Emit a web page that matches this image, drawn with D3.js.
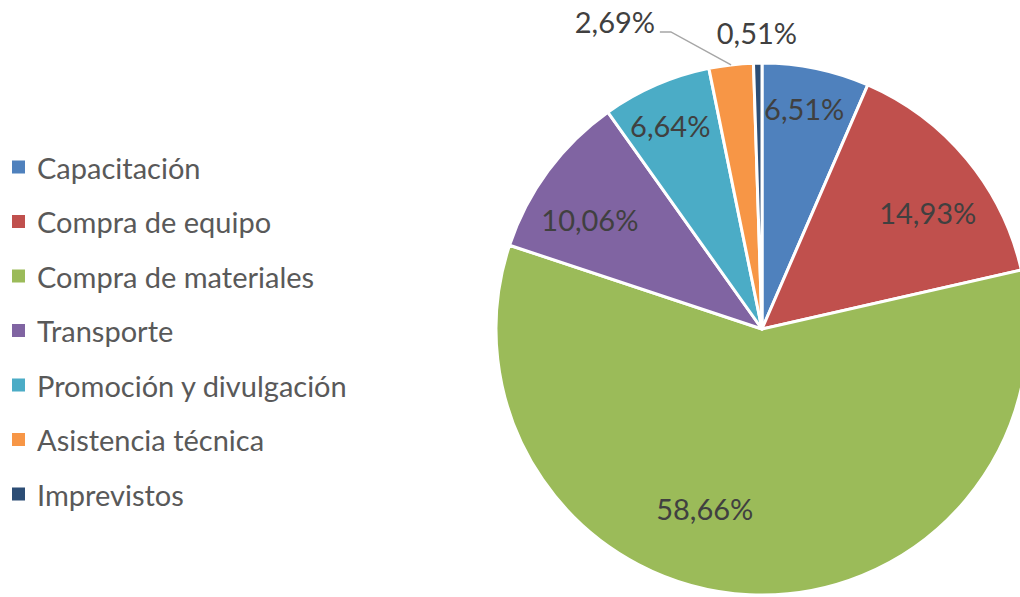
<!DOCTYPE html>
<html>
<head>
<meta charset="utf-8">
<script src="https://cdn.jsdelivr.net/npm/d3@7"></script>
<style>
  body { margin: 0; background: #fff; }
  svg { display: block; }
  .legend text { font-family: Lato, "Open Sans", sans-serif; font-size: 29px; fill: #595959; }
  .label { font-family: Lato, "Open Sans", sans-serif; font-size: 29px; fill: #404040; }
</style>
</head>
<body>
<div id="chart"></div>
<script>
// data
const categories = ["Capacitación", "Compra de equipo", "Compra de materiales", "Transporte",
    "Promoción y divulgación", "Asistencia técnica", "Imprevistos"];
const values = [6.51, 14.93, 58.66, 10.06, 6.64, 2.69, 0.51];
const colors = ["#4F81BD", "#C0504D", "#9BBB59", "#8064A2", "#4BACC6", "#F79646", "#2C4D75"];

const width = 1020, height = 597;
const cx = 762, cy = 329, radius = 266;

// label tweaks (Excel best-fit placement)
const labelNudge = [[-1, -12], [2, 19], [-47, -33], [-1, 17], [-7, -8], [-110, 10], [0, 23]];
const outside = [false, false, false, false, false, true, true];

let svg = d3.select("#chart").append("svg")
    .attr("width", width)
    .attr("height", height);

let pie = d3.pie().sort(null).value(d => d);
let arcs = pie(values);

let arc = d3.arc().innerRadius(0).outerRadius(radius);
let labelArc = d3.arc().innerRadius(radius * 0.8).outerRadius(radius * 0.8);
let outerArc = d3.arc().innerRadius(radius * 1.2).outerRadius(radius * 1.2);
let edgeArc = d3.arc().innerRadius(radius).outerRadius(radius);

let g = svg.append("g")
    .attr("transform", `translate(${cx}, ${cy})`);

g.selectAll(".slice")
    .data(arcs)
    .join("path")
    .attr("class", "slice")
    .attr("d", arc)
    .attr("fill", (d, i) => colors[i])
    .attr("stroke", "#fff")
    .attr("stroke-width", 3)
    .attr("stroke-linejoin", "round");

let fmt = v => v.toFixed(2).replace(".", ",") + "%";

let labelPos = arcs.map((d, i) => {
    let c = outside[i] ? outerArc.centroid(d) : labelArc.centroid(d);
    return [c[0] + labelNudge[i][0], c[1] + labelNudge[i][1]];
});

// leader line for Asistencia técnica
let li = 5;
let p0 = edgeArc.centroid(arcs[li]);
let lp = labelPos[li];
g.append("polyline")
    .attr("points", [p0, [lp[0] + 56, lp[1] + 10], [lp[0] + 45, lp[1] + 10]].map(p => p.join(",")).join(" "))
    .attr("fill", "none")
    .attr("stroke", "#a6a6a6")
    .attr("stroke-width", 1.5);

g.selectAll(".label")
    .data(arcs)
    .join("text")
    .attr("class", "label")
    .attr("x", (d, i) => labelPos[i][0])
    .attr("y", (d, i) => labelPos[i][1])
    .attr("text-anchor", "middle")
    .attr("dominant-baseline", "central")
    .text(d => fmt(d.data));

// legend
let legendY = d3.scalePoint()
    .domain(categories)
    .range([167, 494]);

let legend = svg.append("g").attr("class", "legend");

legend.selectAll("rect")
    .data(categories)
    .join("rect")
    .attr("x", 12)
    .attr("y", d => legendY(d) - 6.5)
    .attr("width", 13)
    .attr("height", 13)
    .attr("fill", (d, i) => colors[i]);

legend.selectAll("text")
    .data(categories)
    .join("text")
    .attr("x", 37)
    .attr("y", d => legendY(d))
    .attr("dominant-baseline", "central")
    .text(d => d);
</script>
</body>
</html>
